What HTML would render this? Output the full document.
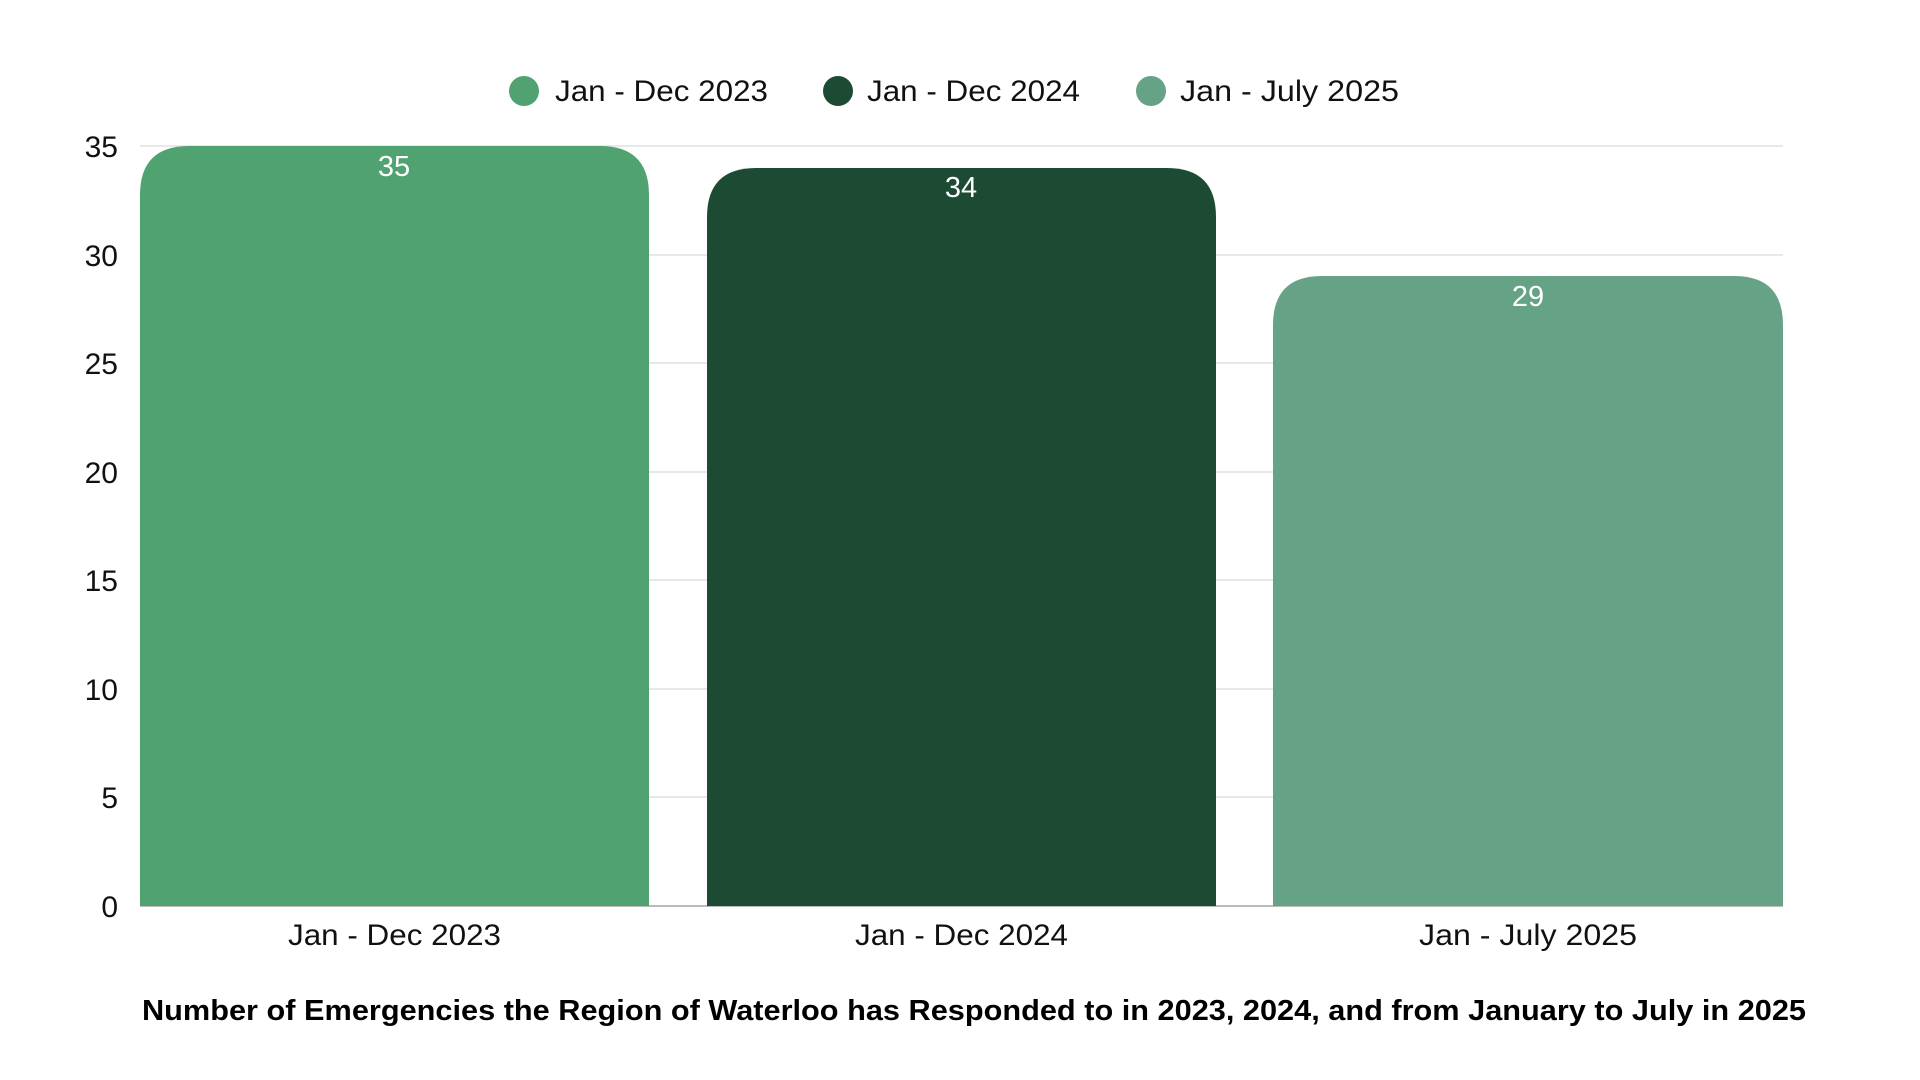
<!DOCTYPE html>
<html><head><meta charset="utf-8"><style>
html,body{margin:0;padding:0;background:#fff;}
svg{display:block;font-family:"Liberation Sans",sans-serif;}
</style></head><body>
<svg width="1920" height="1080" viewBox="0 0 1920 1080">
<g stroke="#e0e0e0" stroke-width="1.5">
<line x1="140" x2="1783" y1="146" y2="146"/>
<line x1="140" x2="1783" y1="255" y2="255"/>
<line x1="140" x2="1783" y1="363" y2="363"/>
<line x1="140" x2="1783" y1="472" y2="472"/>
<line x1="140" x2="1783" y1="580" y2="580"/>
<line x1="140" x2="1783" y1="689" y2="689"/>
<line x1="140" x2="1783" y1="797" y2="797"/>
</g>
<line x1="140" x2="1783" y1="906" y2="906" stroke="#bbb" stroke-width="2"/>
<g font-size="30" fill="#111" text-anchor="end">
<text x="118" y="157">35</text>
<text x="118" y="266">30</text>
<text x="118" y="374">25</text>
<text x="118" y="483">20</text>
<text x="118" y="591">15</text>
<text x="118" y="700">10</text>
<text x="118" y="808">5</text>
<text x="118" y="917">0</text>
</g>
<path d="M140 906 V195 Q140 146 189 146 H600 Q649 146 649 195 V906 Z" fill="#51a271"/>
<path d="M707 906 V217 Q707 168 756 168 H1167 Q1216 168 1216 217 V906 Z" fill="#1d4a33"/>
<path d="M1273 906 V325 Q1273 276 1322 276 H1734 Q1783 276 1783 325 V906 Z" fill="#65a286"/>
<g font-size="29" fill="#fff" text-anchor="middle">
<text x="394" y="176">35</text>
<text x="961" y="197">34</text>
<text x="1528" y="306">29</text>
</g>
<g font-size="30" fill="#111">
<text x="288" y="945" textLength="213" lengthAdjust="spacingAndGlyphs">Jan - Dec 2023</text>
<text x="855" y="945" textLength="213" lengthAdjust="spacingAndGlyphs">Jan - Dec 2024</text>
<text x="1419" y="945" textLength="218" lengthAdjust="spacingAndGlyphs">Jan - July 2025</text>
</g>
<circle cx="524" cy="91" r="15" fill="#51a271"/>
<circle cx="838" cy="91" r="15" fill="#1d4a33"/>
<circle cx="1151" cy="91" r="15" fill="#65a286"/>
<g font-size="30" fill="#111">
<text x="555" y="101" textLength="213" lengthAdjust="spacingAndGlyphs">Jan - Dec 2023</text>
<text x="867" y="101" textLength="213" lengthAdjust="spacingAndGlyphs">Jan - Dec 2024</text>
<text x="1180" y="101" textLength="219" lengthAdjust="spacingAndGlyphs">Jan - July 2025</text>
</g>
<text x="142" y="1020" font-size="29" font-weight="bold" fill="#000" textLength="1664" lengthAdjust="spacingAndGlyphs">Number of Emergencies the Region of Waterloo has Responded to in 2023, 2024, and from January to July in 2025</text>
</svg>
</body></html>
